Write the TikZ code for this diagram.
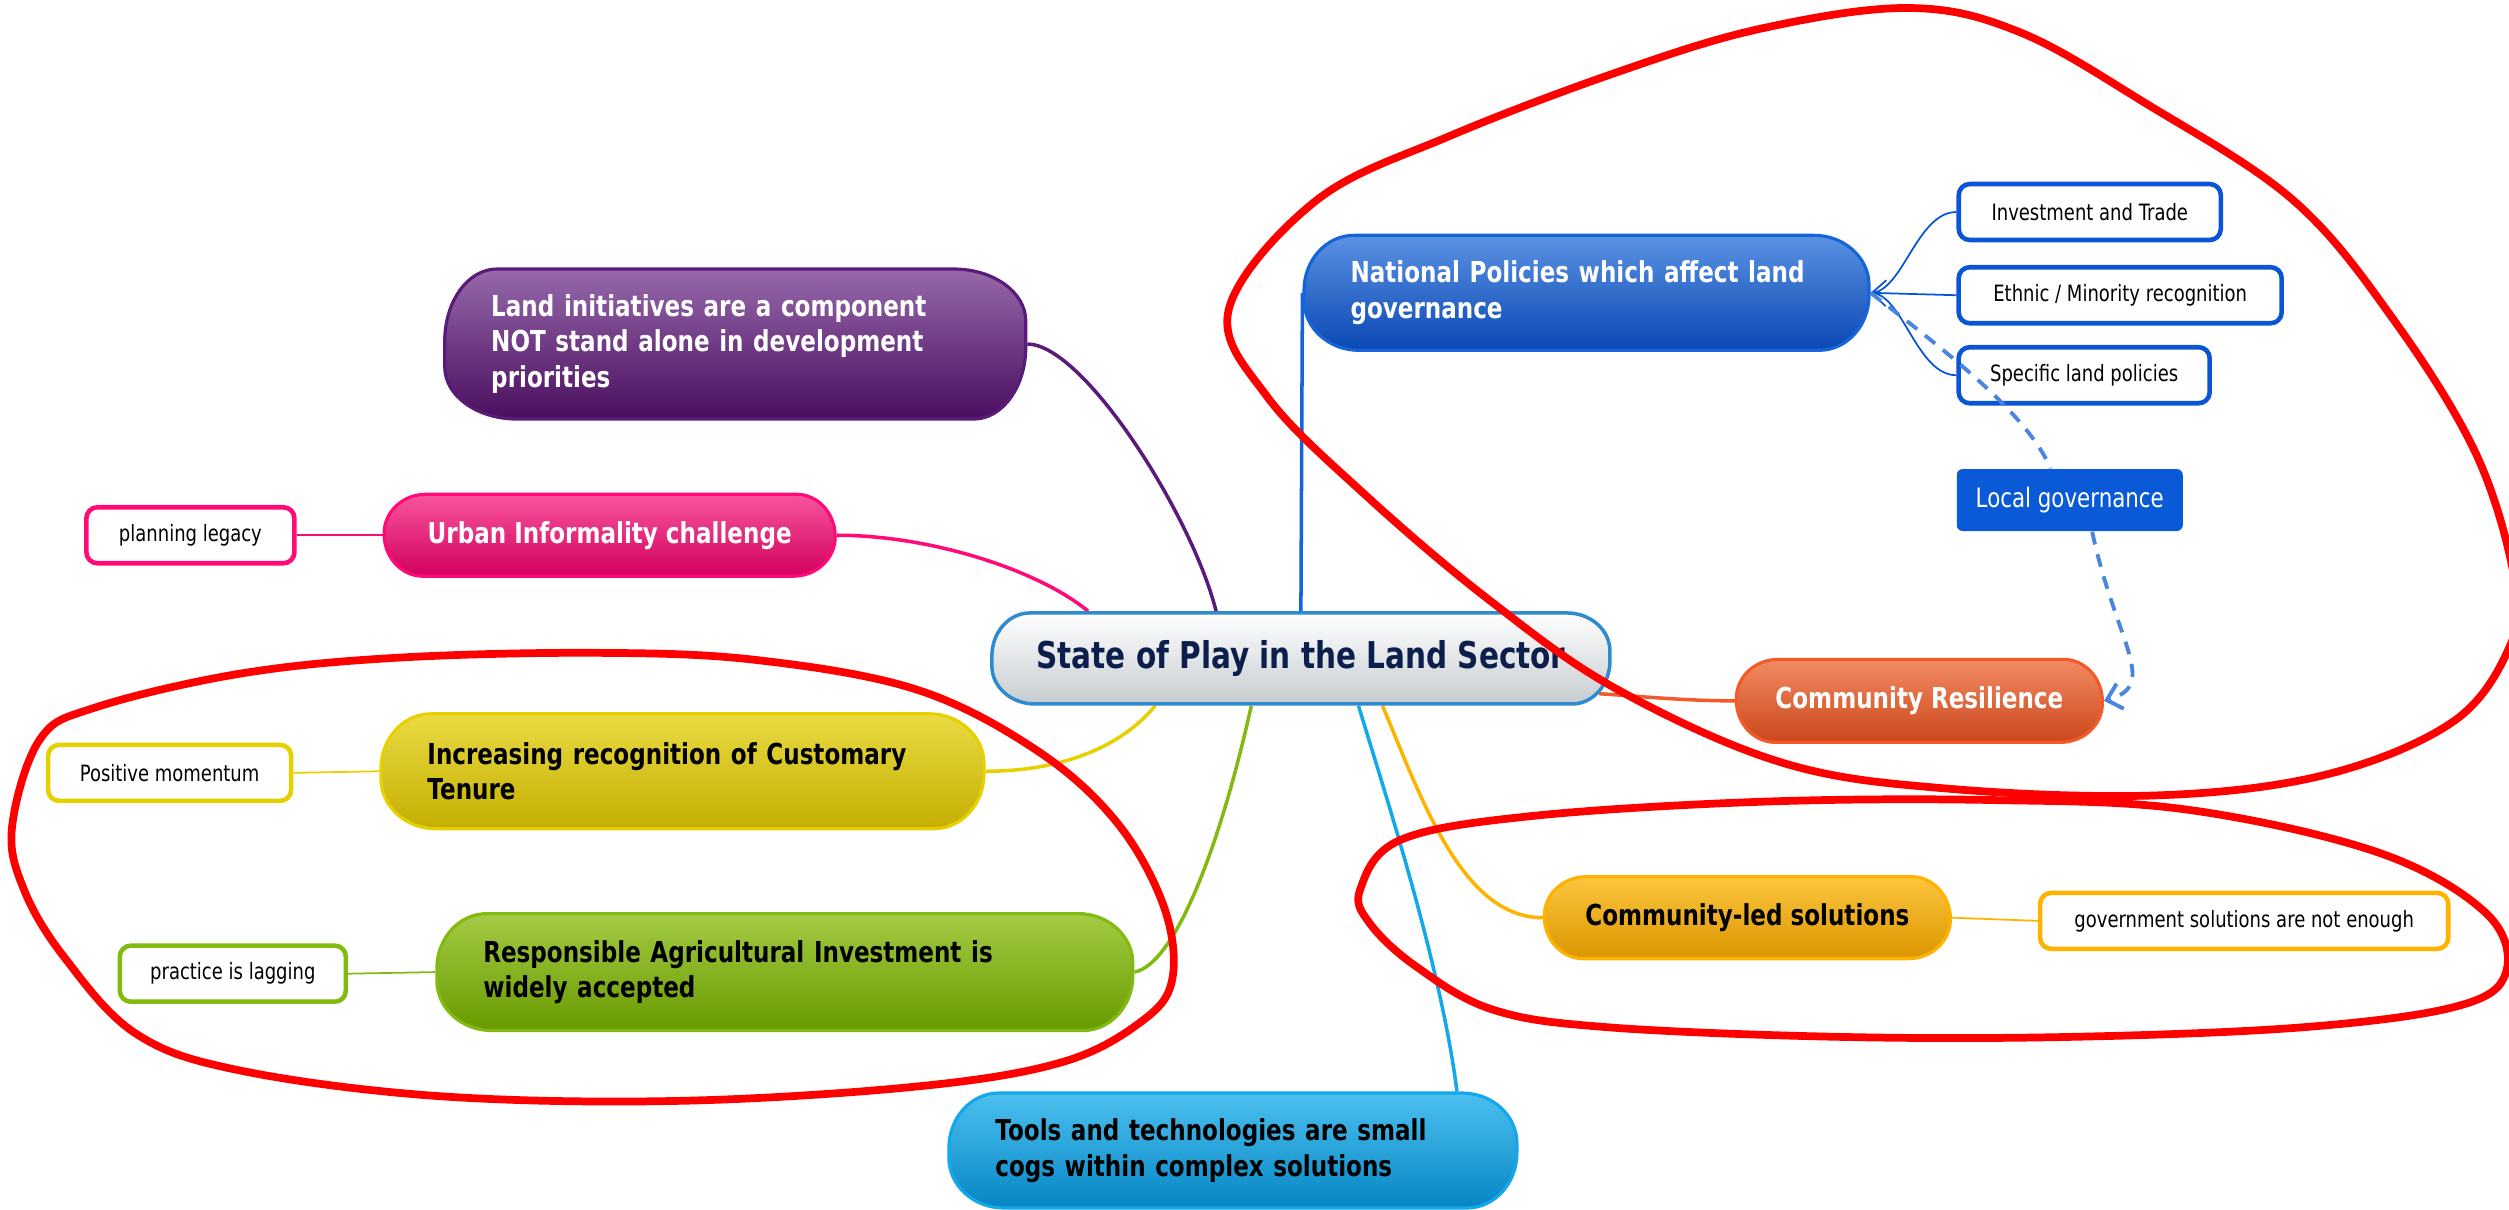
\documentclass[tikz,border=0pt]{standalone}
\usepackage{fontspec}
\setmainfont{DejaVu Sans}[FakeStretch=0.8]
\usetikzlibrary{calc,arrows.meta}

% Farben
\definecolor{hubline}{HTML}{2E8BD0}
\definecolor{hubtext}{HTML}{0C1E4C}
\definecolor{hubgray}{HTML}{C6CCCF}
\definecolor{nplight}{HTML}{5A92E2}
\definecolor{npdark}{HTML}{0A48B4}
\definecolor{npline}{HTML}{1664D8}
\definecolor{leafblue}{HTML}{0A55D5}
\definecolor{lgblue}{HTML}{0A5AD8}
\definecolor{relblue}{HTML}{4A86DE}
\definecolor{crlight}{HTML}{F28A62}
\definecolor{crdark}{HTML}{CC481C}
\definecolor{crline}{HTML}{F25A2A}
\definecolor{clslight}{HTML}{FDC53E}
\definecolor{clsdark}{HTML}{DA9600}
\definecolor{clsline}{HTML}{FFB300}
\definecolor{toolslight}{HTML}{4CC0EF}
\definecolor{toolsdark}{HTML}{0686C4}
\definecolor{toolsline}{HTML}{12A8EA}
\definecolor{railight}{HTML}{A4CB44}
\definecolor{raidark}{HTML}{689A00}
\definecolor{railine}{HTML}{82BA12}
\definecolor{inclight}{HTML}{EADB44}
\definecolor{incdark}{HTML}{C4AE00}
\definecolor{incline}{HTML}{E6D000}
\definecolor{urblight}{HTML}{F8559E}
\definecolor{urbdark}{HTML}{D2005C}
\definecolor{urbline}{HTML}{FF0A78}
\definecolor{landlight}{HTML}{9669AA}
\definecolor{landdark}{HTML}{4A0E5E}
\definecolor{landline}{HTML}{5A1A7A}
\definecolor{annot}{HTML}{FF0000}

\pgfdeclarelayer{links}
\pgfsetlayers{links,main}

\tikzset{
  pillends/.code 2 args={\pgfsetcornersarced{\pgfpoint{#1}{#2}}},
  hubnode/.style={draw=hubline, line width=1pt, top color=white, bottom color=hubgray,
    text=hubtext, font=\bfseries\fontsize{10.5}{12.6}\selectfont,
    minimum width=61.8mm, minimum height=9.1mm, pillends={3.8mm}{4.3mm}},
  topic/.style={line width=0.9pt, font=\bfseries\fontsize{8.2}{10.2}\selectfont,
    pillends={4.2mm}{3.9mm}},
  para/.style={align=left, pillends={5mm}{5.5mm}},
  leaf/.style={fill=white, line width=1.3pt, minimum height=5.6mm,
    font=\fontsize{6.4}{7.6}\selectfont, rounded corners=1.1mm},
  branch/.style={line width=1pt},
  twig/.style={line width=0.5pt},
  rel/.style={relblue, line width=1.1pt, dash pattern=on 1.3mm off 1mm},
  scribble/.style={annot, line width=2.2pt},
}

\begin{document}
\begin{tikzpicture}[x=0.16mm, y=-0.16mm]
    \useasboundingbox (0,0) rectangle (1568,756);
    \clip (0,0) rectangle (1568,756);
    % Mitte
    \node[hubnode] (hub) at (813,411.5) {State of Play in the Land Sector};
    % rechte Seite
    \node[topic, para, draw=npline, top color=nplight, bottom color=npdark, text=white,
      minimum width=56.5mm, minimum height=11.5mm, text width=47.2mm] (np) at (991.5,183)
      {National Policies which affect land\\governance};
    \node[leaf, draw=leafblue, minimum width=26.2mm] (inv) at (1306,132.5) {Investment and Trade};
    \node[leaf, draw=leafblue, minimum width=32.3mm] (eth) at (1325,184.5) {Ethnic / Minority recognition};
    \node[leaf, draw=leafblue, minimum width=25.1mm] (spec) at (1302.5,234.5) {Specific land policies};
    \node[fill=lgblue, text=white, rounded corners=0.6mm, minimum width=22.6mm, minimum height=6.2mm,
      font=\fontsize{7.6}{9}\selectfont] (lg) at (1293.5,312.5) {Local governance};
    \node[topic, draw=crline, top color=crlight, bottom color=crdark, text=white,
      minimum width=36.6mm, minimum height=8.3mm] (cr) at (1199.5,438) {Community Resilience};
    \node[topic, draw=clsline, top color=clslight, bottom color=clsdark,
      minimum width=40.6mm, minimum height=8.2mm] (cls) at (1092,573.5) {Community-led solutions};
    \node[leaf, draw=clsline, minimum width=40.8mm] (gov) at (1402.5,575.5) {government solutions are not enough};
    \node[topic, para, draw=toolsline, top color=toolslight, bottom color=toolsdark,
      minimum width=56.8mm, minimum height=11.5mm, text width=47.5mm] (tools) at (770.5,719)
      {Tools and technologies are small\\cogs within complex solutions};
    % linke Seite
    \node[topic, para, draw=railine, top color=railight, bottom color=raidark,
      minimum width=69.6mm, minimum height=11.7mm, text width=60.3mm] (rai) at (490.5,607.5)
      {Responsible Agricultural Investment is\\widely accepted};
    \node[leaf, draw=railine, minimum width=22.6mm] (lag) at (145.5,608.5) {practice is lagging};
    \node[topic, para, draw=incline, top color=inclight, bottom color=incdark,
      minimum width=60.3mm, minimum height=11.5mm, text width=51mm] (inc) at (426.5,482)
      {Increasing recognition of Customary\\Tenure};
    \node[leaf, draw=incline, minimum width=24.3mm] (pos) at (106,483) {Positive momentum};
    \node[topic, draw=urbline, top color=urblight, bottom color=urbdark, text=white,
      minimum width=45.1mm, minimum height=8.2mm] (urb) at (381,334.5) {Urban Informality challenge};
    \node[leaf, draw=urbline, minimum width=20.8mm] (plan) at (119,334.5) {planning legacy};
    \node[topic, para, draw=landline, top color=landlight, bottom color=landdark, text=white,
      minimum width=58.1mm, minimum height=15mm, text width=48.8mm, pillends={5.2mm}{7.2mm}] (land) at (459.5,215)
      {Land initiatives are a component\\NOT stand alone in development\\priorities};
    % Verbindungen
    \begin{pgfonlayer}{links}
      \draw[branch, landline] (land.east) .. controls +(35,0) and +(-15,-60) .. ($(hub.north)+(-53,0)$);
      \draw[branch, urbline] (urb.east) .. controls +(60,0) and +(-30,-25) .. ($(hub.north)+(-133,0)$);
      \draw[branch, incline] (inc.east) .. controls +(40,0) and +(-25,30) .. ($(hub.south)+(-91,0)$);
      \draw[branch, railine] (rai.east) .. controls +(25,-5) and +(-20,90) .. ($(hub.south)+(-31,0)$);
      \draw[branch, npline] (hub.north) -- (np.west);
      \draw[branch, toolsline] ($(hub.south)+(36,0)$) .. controls +(15,50) and +(-10,-80) .. ($(tools.north)+(140,0)$);
      \draw[branch, clsline] ($(hub.south)+(51,0)$) .. controls +(25,60) and +(-50,0) .. (cls.west);
      \draw[branch, crline] ($(hub.east)+(-8,22)$) .. controls +(30,2) and +(-30,0) .. (cr.west);
      \draw[twig, urbline] (plan.east) -- (urb.west);
      \draw[twig, incline] (pos.east) -- (inc.west);
      \draw[twig, railine] (lag.east) -- (rai.west);
      \draw[twig, clsline] (cls.east) -- (gov.west);
      \draw[twig, leafblue] (inv.west) .. controls +(-25,0) and +(20,0) .. (np.east);
      \draw[twig, leafblue, -{Straight Barb[length=1.4mm, width=2.6mm]}] (eth.west) -- (np.east);
      \draw[twig, leafblue] (spec.west) .. controls +(-25,0) and +(20,0) .. (np.east);
    \end{pgfonlayer}
    % Beziehung
    \draw[rel] (np.east) .. controls +(45,35) and +(-15,-35) .. ($(lg.north)+(-12,0)$);
    \draw[rel, -{Straight Barb[length=1.4mm, width=2.6mm]}] ($(lg.south)+(14,0)$) .. controls +(15,70) and +(35,-10) .. (cr.east);
    % Markierungen
    \draw[scribble] plot[smooth cycle, tension=0.6] coordinates {(768,193) (823,125) (906,85) (1011,45)
      (1100,18) (1193,5) (1262,20) (1340,64) (1433,125) (1496,200) (1548,285) (1572,365) (1568,405)
      (1533,451) (1454,484) (1350,497) (1219,493) (1115,477) (1011,431) (932,376) (854,310) (792,248)};
    \draw[scribble] plot[smooth cycle, tension=0.6] coordinates {(7.5,517) (25,462) (60,442) (150,421)
      (249,411) (374,408) (473,412.5) (573,431) (648,469) (698,514) (727.5,567) (732.5,612.5) (712.5,639)
      (663,664) (573,679) (423.5,688) (274,685) (150,669) (85,646) (40,598) (15,556)};
    \draw[scribble] plot[smooth cycle, tension=0.6] coordinates {(850,556) (875,525) (957,510) (1102,501)
      (1246,500) (1367,506) (1487,533) (1554,571) (1566,608) (1535,629) (1439,642) (1294,648) (1150,648)
      (1005,642) (933,631) (885,604) (856,577)};
\end{tikzpicture}
\end{document}
